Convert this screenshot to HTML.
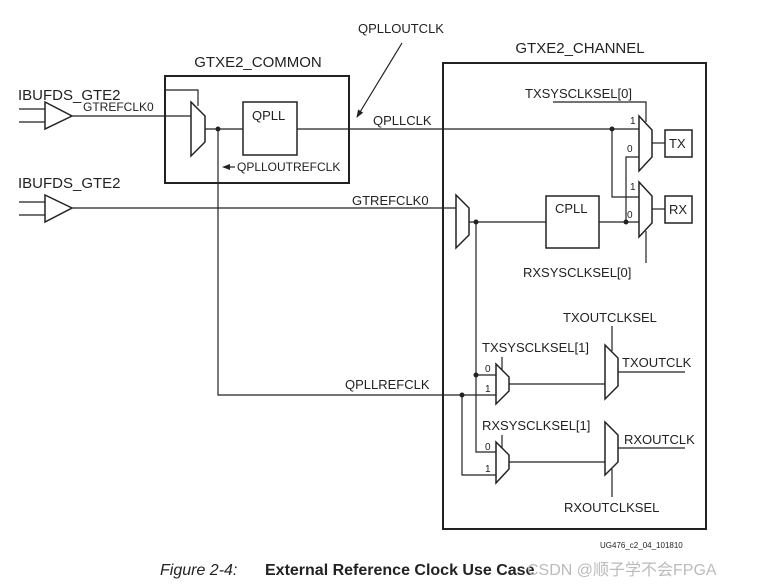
<!DOCTYPE html>
<html><head><meta charset="utf-8"><style>
html,body{margin:0;padding:0;background:#fff;}
svg{display:block;font-family:"Liberation Sans",Arial,sans-serif;}
</style></head><body>
<svg width="759" height="585" viewBox="0 0 759 585" xmlns="http://www.w3.org/2000/svg">
<defs><marker id="ah" markerWidth="8" markerHeight="8" refX="7" refY="4" orient="auto" markerUnits="userSpaceOnUse"><path d="M0,1 L8,4 L0,7 Z" fill="#222"/></marker></defs>
<g stroke="#222" fill="none" stroke-width="1.2">
<!-- boxes -->
<rect x="165" y="76" width="184" height="107" stroke-width="2"/>
<rect x="443" y="63" width="263" height="466" stroke-width="2"/>
<!-- buffers -->
<line x1="19" y1="109" x2="45" y2="109"/><line x1="19" y1="122" x2="45" y2="122"/>
<polygon points="45,102 72,116 45,129" stroke-width="1.5"/>
<line x1="19" y1="202" x2="45" y2="202"/><line x1="19" y1="215" x2="45" y2="215"/>
<polygon points="45,195 72,208 45,222" stroke-width="1.5"/>
<!-- common mux -->
<line x1="72" y1="116" x2="191" y2="116"/>
<polygon points="191,102 205,116 205,142 191,156" stroke-width="1.5"/>
<polyline points="165,90 198,90 198,106"/>
<line x1="205" y1="129" x2="243" y2="129"/>
<rect x="243" y="102" width="54" height="53" stroke-width="1.5"/>
<line x1="297" y1="129" x2="639" y2="129"/>
<polyline points="218,129 218,395 496,395"/>
<!-- qplloutclk arrow -->
<line x1="402" y1="43" x2="357" y2="117" marker-end="url(#ah)"/>
<!-- gtrefclk0 to channel -->
<line x1="72" y1="208" x2="456" y2="208"/>
<polygon points="456,195 469,208 469,235 456,248" stroke-width="1.5"/>
<line x1="469" y1="222" x2="546" y2="222"/>
<rect x="546" y="196" width="53" height="52" stroke-width="1.5"/>
<line x1="599" y1="222" x2="639" y2="222"/>
<!-- TX/RX muxes -->
<polygon points="639,116 652,130 652,157 639,171" stroke-width="1.5"/>
<polygon points="639,182 652,196 652,223 639,237" stroke-width="1.5"/>
<polyline points="553,102 646,102 646,122"/>
<line x1="646" y1="231" x2="646" y2="263"/>
<polyline points="639,157 626,157 626,222"/>
<polyline points="612,129 612,197 639,197"/>
<line x1="652" y1="143" x2="665" y2="143"/>
<rect x="665" y="130" width="27" height="27" stroke-width="1.5"/>
<line x1="652" y1="209" x2="665" y2="209"/>
<rect x="665" y="196" width="27" height="27" stroke-width="1.5"/>
<!-- lower -->
<polyline points="476,222 476,452 496,452"/>
<line x1="476" y1="375" x2="496" y2="375"/>
<polyline points="462,395 462,475 496,475"/>
<polygon points="496,364 509,377 509,391 496,404" stroke-width="1.5"/>
<polygon points="496,442 509,455 509,469 496,483" stroke-width="1.5"/>
<line x1="502" y1="357" x2="502" y2="370"/>
<line x1="502" y1="435" x2="502" y2="448"/>
<line x1="509" y1="384" x2="605" y2="384"/>
<line x1="509" y1="462" x2="605" y2="462"/>
<polygon points="605,345 618,358 618,386 605,399" stroke-width="1.5"/>
<polygon points="605,422 618,435 618,462 605,475" stroke-width="1.5"/>
<line x1="612" y1="326" x2="612" y2="351"/>
<line x1="612" y1="469" x2="612" y2="497"/>
<line x1="618" y1="372" x2="685" y2="372"/>
<line x1="618" y1="448" x2="685" y2="448"/>
</g>
<g fill="#222">
<circle cx="218" cy="129" r="2.5"/><circle cx="612" cy="129" r="2.5"/><circle cx="626" cy="222" r="2.5"/>
<circle cx="476" cy="222" r="2.5"/><circle cx="476" cy="375" r="2.5"/><circle cx="462" cy="395" r="2.5"/>
<path d="M222,167 L230,164 L230,170 Z"/><line x1="228" y1="167" x2="235" y2="167" stroke="#222" stroke-width="1.2"/>
</g>
<g fill="#222" font-size="13">
<text x="258" y="67" text-anchor="middle" font-size="15">GTXE2_COMMON</text>
<text x="580" y="53" text-anchor="middle" font-size="15">GTXE2_CHANNEL</text>
<text x="18" y="100" font-size="15">IBUFDS_GTE2</text>
<text x="18" y="188" font-size="15">IBUFDS_GTE2</text>
<text x="83" y="111" font-size="12">GTREFCLK0</text>
<text x="252" y="120" font-size="13">QPLL</text>
<text x="237" y="171" font-size="12">QPLLOUTREFCLK</text>
<text x="358" y="33">QPLLOUTCLK</text>
<text x="373" y="125">QPLLCLK</text>
<text x="352" y="205">GTREFCLK0</text>
<text x="345" y="389">QPLLREFCLK</text>
<text x="555" y="213" font-size="13">CPLL</text>
<text x="525" y="98">TXSYSCLKSEL[0]</text>
<text x="523" y="277">RXSYSCLKSEL[0]</text>
<text x="669" y="148">TX</text>
<text x="669" y="214">RX</text>
<text x="630" y="124" font-size="10">1</text><text x="627" y="152" font-size="10">0</text>
<text x="630" y="190" font-size="10">1</text><text x="627" y="218" font-size="10">0</text>
<text x="482" y="352">TXSYSCLKSEL[1]</text>
<text x="482" y="430">RXSYSCLKSEL[1]</text>
<text x="485" y="372" font-size="10">0</text><text x="485" y="392" font-size="10">1</text>
<text x="485" y="450" font-size="10">0</text><text x="485" y="472" font-size="10">1</text>
<text x="563" y="322">TXOUTCLKSEL</text>
<text x="622" y="367">TXOUTCLK</text>
<text x="624" y="444">RXOUTCLK</text>
<text x="564" y="512">RXOUTCLKSEL</text>
<text x="600" y="548" font-size="8">UG476_c2_04_101810</text>
<text x="160" y="575" font-size="16" font-style="italic">Figure 2-4:</text>
<text x="265" y="575" font-size="16" font-weight="bold">External Reference Clock Use Case</text>
</g>
<text x="527" y="575" font-size="16" fill="#bbb" font-family="'Liberation Sans','Noto Sans CJK SC',sans-serif">CSDN @顺子学不会FPGA</text>
</svg>
</body></html>
